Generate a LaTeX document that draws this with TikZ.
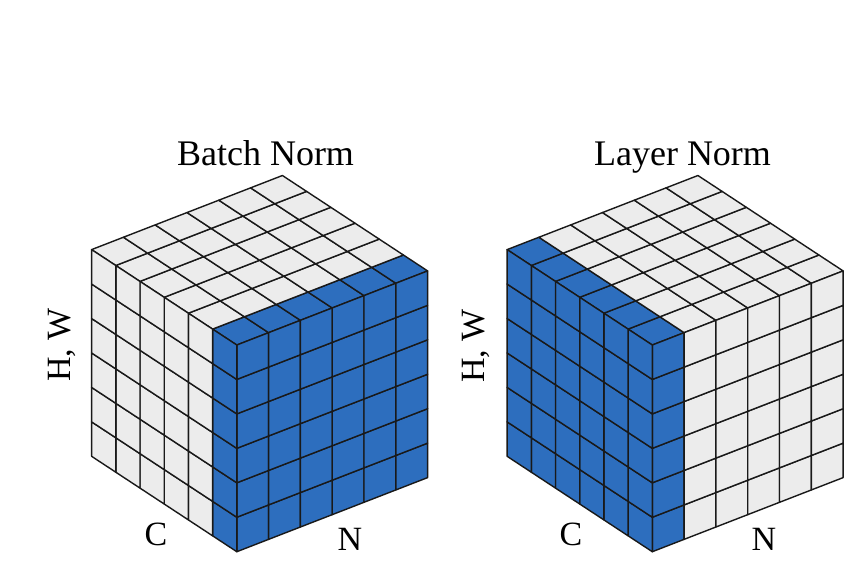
\documentclass[tikz,border=0pt]{standalone}
\usepackage{fontspec}
\setmainfont{Liberation Serif}
\definecolor{cellblue}{HTML}{2D6EBE}
\definecolor{cellgray}{HTML}{ECECEC}
\tikzset{
  cell/.style={draw=black!90, line width=1.4pt, line join=round},
  titlelbl/.style={font=\fontsize{36}{36}\selectfont, inner sep=0pt, anchor=base},
  axislbl/.style={font=\fontsize{34}{34}\selectfont, inner sep=0pt}
}
\newcommand\normcube[2]{%
\begin{scope}[shift={(#1,-551.7)}, x={(31.8pt,12.35pt)}, y={(0pt,34.45pt)}, z={(-24.2pt,15.9pt)}]
 \foreach \a in {0,...,5}{
  \foreach \b in {0,...,5}{
   % front face (N x HW)
   \ifnum#2=1 \def\fc{cellblue}\else\ifnum\a=0 \def\fc{cellblue}\else\def\fc{cellgray}\fi\fi
   \filldraw[cell, fill=\fc] (\a,\b,0) -- ++(1,0,0) -- ++(0,1,0) -- ++(-1,0,0) -- cycle;
   % left face (C x HW), \a = depth from front
   \ifnum#2=2 \def\fc{cellblue}\else\ifnum\a=0 \def\fc{cellblue}\else\def\fc{cellgray}\fi\fi
   \filldraw[cell, fill=\fc] (0,\b,\a) -- ++(0,0,1) -- ++(0,1,0) -- ++(0,0,-1) -- cycle;
   % top face (N x C)
   \ifnum#2=1 \ifnum\b=0 \def\fc{cellblue}\else\def\fc{cellgray}\fi\else\ifnum\a=0 \def\fc{cellblue}\else\def\fc{cellgray}\fi\fi
   \filldraw[cell, fill=\fc] (\a,6,\b) -- ++(1,0,0) -- ++(0,0,1) -- ++(-1,0,0) -- cycle;
  }
 }
\end{scope}}
\begin{document}
\begin{tikzpicture}[x=1pt,y=1pt]
\useasboundingbox (0,0) rectangle (850,-566);
\fill[white] (0,0) rectangle (850,-566);
\normcube{236.8}{1}
\normcube{652.3}{2}
\node[titlelbl] (bn) at (265.5,-165) {Batch Norm};
\node[titlelbl] (ln) at (682.5,-165) {Layer Norm};
\node[axislbl, rotate=90] (hw1) at (62,-345) {H, W};
\node[axislbl, rotate=90] (hw2) at (476,-346) {H, W};
\node[axislbl, anchor=base] (c1) at (156,-545) {C};
\node[axislbl, anchor=base] (n1) at (350,-550) {N};
\node[axislbl, anchor=base] (c2) at (571,-545) {C};
\node[axislbl, anchor=base] (n2) at (764,-550) {N};
\end{tikzpicture}
\end{document}
